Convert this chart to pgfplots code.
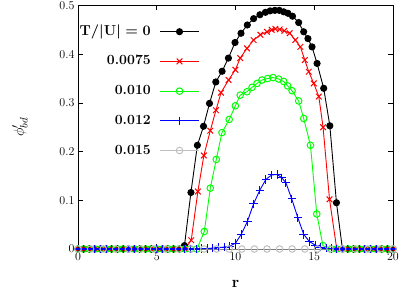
\documentclass[border=0pt]{standalone}
\usepackage{pgfplots}
\pgfplotsset{compat=1.18}
\definecolor{mygreen}{RGB}{0,255,0}
\definecolor{mygray}{RGB}{192,192,192}
\DeclareRobustCommand\legT{{\boldmath$\mathbf{T}/\vert\mathbf{U}\vert = \mathbf{0}$}}
\pgfplotsset{mylegimg/.style={legend image code/.code={\draw[mark repeat=2,mark phase=2,##1] plot coordinates {(0pt,0pt) (19.3pt,0pt) (38.6pt,0pt)};}}}
\begin{document}
\begin{tikzpicture}
\begin{axis}[
 scale only axis, width=315pt, height=243.5pt,
 xmin=0,xmax=20,ymin=0,ymax=0.5,
 xtick={0,5,10,15,20}, ytick={0,0.1,0.2,0.3,0.4,0.5}, yticklabels={0,0.1,0.2,0.3,0.4,0.5},
 tick align=inside, major tick length=5pt, tick style={black, line width=0.6pt},
 axis line style={line width=0.8pt},
 clip=false,
 ticklabel style={font=\fontsize{12}{14}\selectfont},
 xlabel={\textbf{r}}, ylabel={$\phi'_{bd}$},
 every axis x label/.style={at={(axis description cs:0.5,-0.144)},anchor=center,font=\fontsize{16}{18}\selectfont},
 every axis y label/.style={at={(axis description cs:-0.184,0.5)},anchor=center,rotate=90,font=\fontsize{15}{18}\selectfont},
 legend style={at={(0.385,0.919)}, anchor=north east, draw=none, fill=none, inner sep=0pt, outer sep=0pt, font=\fontsize{14}{16}\selectfont\bfseries, nodes={inner sep=0pt,text height=10pt,text depth=3pt}, row sep=16.7pt, column sep=9pt},
 legend cell align=right, legend plot pos=right,
 mylegimg,
]
% T/|U| = 0
\addplot[black, line width=0.9pt, mark=*, mark size=3.1pt, mark options={solid, fill=black}] coordinates {
(0,0)(0.36,0)(0.71,0)(1.07,0)(1.43,0)(1.79,0)(2.14,0)(2.5,0)(2.86,0)(3.21,0)(3.57,0)(3.93,0)(4.29,0)(4.64,0)(5.0,0)(5.36,0)(5.71,0)(6.07,0)(6.43,0)
(6.76,0.007)(7.17,0.116)(7.58,0.213)(7.97,0.252)(8.35,0.299)(8.75,0.343)(9.15,0.365)(9.55,0.392)(9.97,0.424)(10.35,0.443)(10.75,0.460)(11.15,0.473)(11.55,0.481)(11.9,0.486)(12.2,0.489)(12.5,0.490)(12.78,0.490)(13.06,0.487)(13.33,0.484)(13.62,0.478)(14.01,0.465)(14.33,0.446)(14.6,0.432)(14.86,0.415)(15.18,0.381)(15.6,0.33)(15.99,0.253)(16.41,0.095)
(16.79,0)(17.14,0)(17.5,0)(17.86,0)(18.21,0)(18.57,0)(18.93,0)(19.29,0)(19.64,0)(20,0)};
\addlegendentry{\legT}
% 0.0075
\addplot[red, line width=0.9pt, mark=x, mark size=4pt, mark options={solid, line width=1pt}] coordinates {
(0,0)(0.36,0)(0.71,0)(1.07,0)(1.43,0)(1.79,0)(2.14,0)(2.5,0)(2.86,0)(3.21,0)(3.57,0)(3.93,0)(4.29,0)(4.64,0)(5.0,0)(5.36,0)(5.71,0)(6.07,0)(6.43,0)(6.79,0)
(7.19,0.018)(7.61,0.118)(7.99,0.192)(8.4,0.243)(8.76,0.285)(9.08,0.321)(9.56,0.347)(9.99,0.368)(10.3,0.392)(10.73,0.412)(11.15,0.429)(11.58,0.44)(12.0,0.446)(12.3,0.45)(12.53,0.452)(12.8,0.451)(13.1,0.448)(13.44,0.443)(13.8,0.429)(14.12,0.415)(14.4,0.388)(14.65,0.364)(14.97,0.34)(15.29,0.313)(15.56,0.25)(15.97,0.102)
(16.43,0)(16.79,0)(17.14,0)(17.5,0)(17.86,0)(18.21,0)(18.57,0)(18.93,0)(19.29,0)(19.64,0)(20,0)};
\addlegendentry{0.0075}
% 0.010
\addplot[mygreen, line width=0.9pt, mark=o, mark size=3.3pt, mark options={solid, line width=1pt}] coordinates {
(0,0)(0.36,0)(0.71,0)(1.07,0)(1.43,0)(1.79,0)(2.14,0)(2.5,0)(2.86,0)(3.21,0)(3.57,0)(3.93,0)(4.29,0)(4.64,0)(5.0,0)(5.36,0)(5.71,0)(6.07,0)(6.43,0)(6.79,0)(7.14,0)(7.55,0)
(8.02,0.036)(8.4,0.125)(8.78,0.184)(9.14,0.239)(9.6,0.266)(9.99,0.294)(10.3,0.316)(10.73,0.323)(11.05,0.332)(11.37,0.34)(11.68,0.347)(12.04,0.35)(12.38,0.352)(12.74,0.349)(13.06,0.344)(13.31,0.335)(13.59,0.325)(14.01,0.304)(14.33,0.268)(14.76,0.213)(15.16,0.072)(15.55,0.007)
(16.07,0)(16.43,0)(16.79,0)(17.14,0)(17.5,0)(17.86,0)(18.21,0)(18.57,0)(18.93,0)(19.29,0)(19.64,0)(20,0)};
\addlegendentry{0.010}
% 0.012
\addplot[blue, line width=0.9pt, mark=+, mark size=4.2pt, mark options={solid, line width=1pt}] coordinates {
(0,0)(0.36,0)(0.71,0)(1.07,0)(1.43,0)(1.79,0)(2.14,0)(2.5,0)(2.86,0)(3.21,0)(3.57,0)(3.93,0)(4.29,0)(4.64,0)(5.0,0)(5.36,0)(5.71,0)(6.07,0)(6.43,0)(6.79,0)(7.14,0)
(7.5,0.0)(7.86,0.001)(8.21,0.001)(8.57,0.002)(8.93,0.003)(9.29,0.004)(9.64,0.006)(10.0,0.012)(10.36,0.03)(10.75,0.056)(11.15,0.093)(11.55,0.121)(11.93,0.143)(12.3,0.152)(12.65,0.153)(12.95,0.146)(13.2,0.136)(13.57,0.103)(13.96,0.064)(14.33,0.03)(14.7,0.015)(15.07,0.008)(15.4,0.004)(15.75,0.002)(16.07,0.001)
(16.43,0)(16.79,0)(17.14,0)(17.5,0)(17.86,0)(18.21,0)(18.57,0)(18.93,0)(19.29,0)(19.64,0)(20,0)};
\addlegendentry{0.012}
% 0.015
\addplot[mygray, line width=0.9pt, mark=o, mark size=3.3pt, mark options={solid, line width=1pt}] coordinates {
(0,0)(0.8,0)(1.6,0)(2.4,0)(3.2,0)(4.0,0)(4.8,0)(5.6,0)(6.4,0)(7.2,0)(8.0,0)(8.8,0)(9.6,0)(10.4,0)(11.2,0)(12.0,0)(12.8,0)(13.6,0)(14.4,0)(15.2,0)(16.0,0)(16.8,0)(17.6,0)(18.4,0)(19.2,0)(20,0)};
\addlegendentry{0.015}
\end{axis}
\pgfresetboundingbox
\path[use as bounding box] (-78pt,-48pt) rectangle (337pt,249pt);
\end{tikzpicture}
\end{document}
